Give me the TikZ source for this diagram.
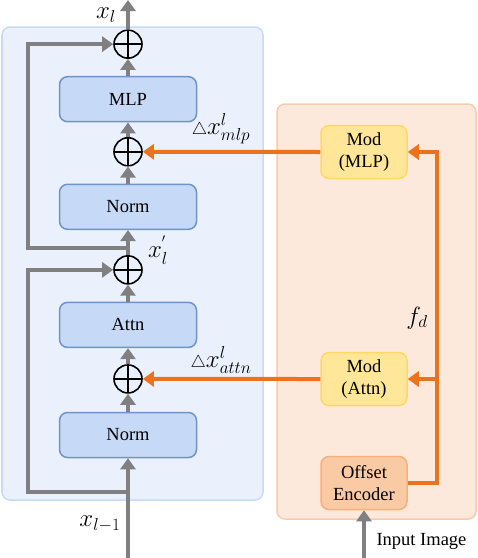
\documentclass[tikz,border=0pt]{standalone}
\usepackage{fontspec}
\setmainfont{Liberation Serif}
\usepackage{tikz}
\usetikzlibrary{arrows.meta, positioning}

\definecolor{panelblue}{RGB}{235,241,252}
\definecolor{panelblueline}{RGB}{200,219,246}
\definecolor{boxblue}{RGB}{198,217,246}
\definecolor{boxblueline}{RGB}{112,148,200}
\definecolor{panelorange}{RGB}{252,233,220}
\definecolor{panelorangeline}{RGB}{248,203,173}
\definecolor{modyellow}{RGB}{255,230,153}
\definecolor{modyellowline}{RGB}{255,217,102}
\definecolor{encorange}{RGB}{250,202,165}
\definecolor{encorangeline}{RGB}{245,177,125}
\definecolor{linkorange}{RGB}{236,114,28}
\definecolor{linkgray}{RGB}{128,128,128}

\begin{document}
\begin{tikzpicture}[
  x=1pt, y=-1pt,
  node distance=17pt,
  font=\fontsize{18.5}{22.5}\selectfont,
  panelL/.style={draw=panelblueline, fill=panelblue, line width=1.5pt, rounded corners=8pt},
  panelR/.style={draw=panelorangeline, fill=panelorange, line width=1.5pt, rounded corners=8pt},
  blk/.style={rectangle, draw=boxblueline, fill=boxblue, line width=1.5pt, rounded corners=8pt, minimum width=137pt, minimum height=45pt},
  modbox/.style={rectangle, draw=modyellowline, fill=modyellow, line width=1.5pt, rounded corners=8pt, minimum width=86pt, minimum height=53pt, align=center, inner sep=2pt},
  encbox/.style={modbox, draw=encorangeline, fill=encorange},
  oplus/.style={circle, draw=black, line width=1.6pt, minimum size=28pt, inner sep=0pt,
    path picture={\draw[line width=1.6pt] (path picture bounding box.north) -- (path picture bounding box.south)
      (path picture bounding box.west) -- (path picture bounding box.east);}},
  garr/.style={-{Triangle[length=11pt, width=15pt]}, line width=4pt, color=linkgray},
  oarr/.style={-{Triangle[length=11pt, width=15pt]}, line width=4pt, color=linkorange},
  mlbl/.style={font=\fontsize{24}{26}\selectfont, inner sep=1pt}
]
\useasboundingbox (0,0) rectangle (478,558);
\draw[panelL] (2,27) rectangle (263,500);
\draw[panelR] (277,104) rectangle (476,519);

% transformer block
\node[blk] (norm1) at (128,435) {Norm};
\node[oplus, above=18pt of norm1] (addA) {};
\node[blk, above=16pt of addA] (attn) {Attn};
\node[oplus, above=of attn] (addB) {};
\node[blk, above=25pt of addB] (norm2) {Norm};
\node[oplus, above=of norm2] (addM) {};
\node[blk, above=14.5pt of addM] (mlp) {MLP};
\node[oplus, above=of mlp] (addT) {};

% modulation branch
\node[modbox] (modM) at (364,152) {Mod\\(MLP)};
\node[modbox] (modA) at (364,379) {Mod\\(Attn)};
\node[encbox] (enc) at (364,483) {Offset\\Encoder};

\coordinate (xin) at (128,558);
\coordinate (xout) at (128,0);
\coordinate (sk1) at (128,492);
\coordinate (skl1) at (28,492);
\coordinate (sk2) at (128,248);
\coordinate (skl2) at (28,248);
\coordinate (img) at (364,558);
\coordinate (railT) at (437,152);

\draw[garr] (xin) -- (norm1);
\draw[garr] (norm1) -- (addA);
\draw[garr] (addA) -- (attn);
\draw[garr] (attn) -- (addB);
\draw[garr] (addB) -- (norm2);
\draw[garr] (norm2) -- (addM);
\draw[garr] (addM) -- (mlp);
\draw[garr] (mlp) -- (addT);
\draw[garr] (addT) -- (xout);
\draw[garr] (sk1) -- (skl1) |- (addB);
\draw[garr] (sk2) -- (skl2) |- (addT);
\draw[garr] (img) -- (enc);

\draw[oarr] (enc.east) -| (railT) -- (modM.east);
\draw[oarr] (modA.east -| railT) -- (modA.east);
\draw[oarr] (modM.west) -- (addM.east);
\draw[oarr] (modA.west) -- (addA.east);

% labels
\node[mlbl] (lout) at (106,15) {$x_l$};
\node[mlbl] (lin) at (100,524) {$x_{l-1}$};
\node[mlbl] (lmid) at (158,250) {$x_l^{'}$};
\node[mlbl] (ldm) at (221,129) {${\scriptstyle\triangle}x^l_{mlp}$};
\node[mlbl] (lda) at (221,360) {${\scriptstyle\triangle}x^l_{attn}$};
\node[mlbl] (lfd) at (417,318) {$f_d$};
\node[anchor=west] (limg) at (373,541) {Input Image};
\end{tikzpicture}
\end{document}
